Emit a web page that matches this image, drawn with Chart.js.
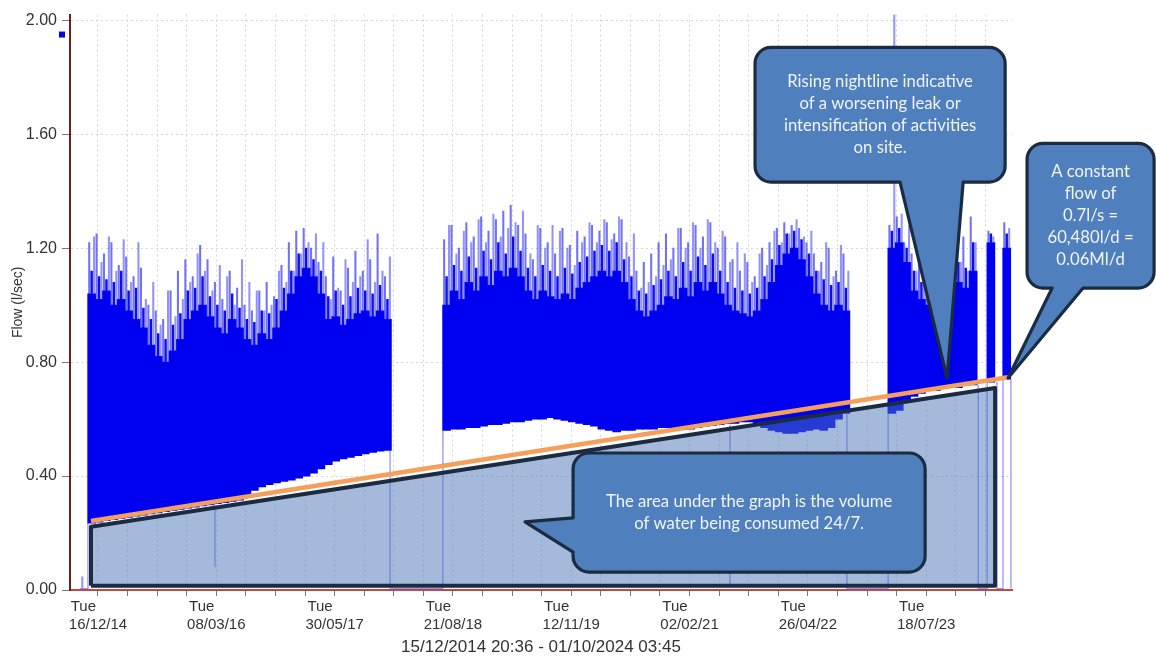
<!DOCTYPE html>
<html>
<head>
<meta charset="utf-8">
<script src="https://cdn.jsdelivr.net/npm/chart.js@4.4.1/dist/chart.umd.min.js"></script>
<style>
html,body{margin:0;padding:0;background:#fff;}
#wrap{width:1156px;height:658px;position:relative;}
</style>
</head>
<body>
<div id="wrap"><canvas id="c" width="1156" height="658"></canvas></div>
<script>
// ---------- axis data (x = days since Tue 16/12/2014) ----------
const X_MIN = -106;
const X_MAX = 3461;
const TICK_STEP_DAYS = 112;
const LABEL_STEP_DAYS = 448;
const Y_MIN = 0;
const Y_MAX = 2.02;
const Y_STEP = 0.4;
const xAxisTitle = '15/12/2014 20:36 - 01/10/2024 03:45';
const yAxisTitle = 'Flow (l/sec)';
const BUCKET_DAYS = 28;

// ---------- flow data, read per 28-day bucket ----------
// segment 1
const seg1Start = -38;
const seg1Low  = [0.235,0.238,0.243,0.247,0.251,0.255,0.259,0.263,0.267,0.271,0.275,0.279,0.283,0.287,0.291,0.295,0.299,0.303,0.307,0.311,0.315,0.33,0.35,0.362,0.37,0.376,0.381,0.386,0.393,0.40,0.41,0.425,0.44,0.452,0.46,0.465,0.472,0.478,0.483,0.487,0.49];
const seg1Top  = [1.04,1.02,1.05,1.00,1.02,0.98,0.95,0.92,0.86,0.82,0.80,0.84,0.88,0.95,0.98,1.00,0.96,0.92,0.90,0.95,0.92,0.88,0.86,0.90,0.88,0.92,0.98,1.04,1.10,1.13,1.10,1.04,0.95,0.96,0.93,0.95,0.97,0.98,0.96,0.98,0.95];
const seg1PeakA = [1.22,1.25,1.18,1.22,1.14,1.17,1.10,1.13,1.00,0.98,0.95,1.05,1.12,1.16,1.10,1.21,1.16,1.08,1.02,1.12,1.06,1.00,0.98,1.05,1.08,1.03,1.14,1.22,1.26,1.27,1.20,1.15,1.10,1.17,1.05,1.13,1.19,1.12,1.16,1.25,1.10];
const seg1PeakB = [1.24,1.15,1.24,1.12,1.23,1.08,1.22,1.02,1.08,0.93,1.05,0.96,1.02,1.08,1.18,1.12,1.05,1.14,1.10,1.00,1.16,1.08,1.05,0.98,1.00,1.12,1.08,1.12,1.18,1.22,1.25,1.22,1.02,1.06,1.16,1.08,1.10,1.23,1.08,1.12,1.17];
const seg1PeakC = [1.12,1.10,1.09,1.08,1.12,1.05,1.06,0.99,0.95,0.90,0.88,0.93,0.97,1.05,1.06,1.10,1.03,1.00,0.98,1.04,0.99,0.95,0.94,0.98,0.97,1.02,1.06,1.12,1.18,1.20,1.16,1.12,1.03,1.05,1.00,1.03,1.06,1.05,1.04,1.07,1.02];
// segment 2
const seg2Start = 1306;
const seg2Low  = [0.56,0.565,0.565,0.57,0.57,0.575,0.58,0.58,0.585,0.59,0.59,0.595,0.60,0.60,0.605,0.60,0.595,0.59,0.585,0.58,0.575,0.565,0.56,0.555,0.56,0.56,0.565,0.565,0.565,0.57,0.57,0.565,0.565,0.565,0.57,0.575,0.578,0.58,0.585,0.585,0.59,0.59,0.585,0.57,0.56,0.555,0.55,0.55,0.555,0.56,0.565,0.56,0.57,0.60,0.62];
const seg2Top  = [1.00,1.05,1.02,1.08,1.05,1.10,1.07,1.12,1.10,1.13,1.10,1.05,1.02,1.05,1.03,1.02,1.04,1.02,1.06,1.08,1.10,1.12,1.10,1.12,1.08,1.02,0.98,0.96,0.98,1.00,1.03,1.02,1.06,1.03,1.08,1.05,1.08,1.04,1.00,0.98,0.97,0.96,0.98,1.02,1.08,1.14,1.18,1.20,1.16,1.10,1.04,1.00,0.98,1.00,0.98];
const seg2PeakA = [1.23,1.28,1.20,1.29,1.24,1.31,1.26,1.30,1.33,1.35,1.28,1.25,1.16,1.27,1.22,1.18,1.27,1.21,1.26,1.24,1.28,1.26,1.29,1.25,1.30,1.17,1.12,1.15,1.18,1.22,1.25,1.20,1.27,1.22,1.28,1.24,1.29,1.20,1.24,1.16,1.12,1.15,1.10,1.20,1.22,1.27,1.29,1.28,1.27,1.22,1.18,1.15,1.20,1.12,1.18];
const seg2PeakB = [1.28,1.18,1.26,1.22,1.30,1.22,1.32,1.24,1.27,1.29,1.33,1.18,1.28,1.20,1.28,1.26,1.20,1.14,1.22,1.29,1.22,1.30,1.23,1.31,1.22,1.25,1.06,1.08,1.10,1.14,1.16,1.27,1.20,1.29,1.20,1.30,1.22,1.26,1.15,1.22,1.18,1.08,1.18,1.14,1.26,1.22,1.25,1.30,1.24,1.26,1.12,1.22,1.10,1.21,1.12];
const seg2PeakC = [1.10,1.14,1.12,1.17,1.13,1.19,1.16,1.22,1.18,1.24,1.19,1.13,1.10,1.14,1.12,1.10,1.13,1.11,1.15,1.17,1.19,1.21,1.19,1.22,1.16,1.10,1.05,1.04,1.07,1.09,1.12,1.10,1.15,1.12,1.17,1.14,1.18,1.12,1.08,1.06,1.05,1.04,1.06,1.10,1.16,1.21,1.25,1.26,1.23,1.18,1.12,1.09,1.07,1.08,1.06];
// segment 3 (with short outages)
const seg3Start = 2992;
const seg3Low  = [0.62,0.63,0.66,0.68,0.69,0.70,0.70,0.71,0.71,0.71,0.72,0.72];
const seg3Top  = [1.20,1.22,1.15,1.05,1.02,1.00,0.98,1.00,1.04,1.08,1.06,1.12];
const seg3PeakA = [1.28,1.31,1.22,1.18,1.15,1.12,1.10,1.08,1.18,1.22,1.24,1.31];
const seg3PeakB = [2.02,1.32,1.28,1.12,1.10,1.18,1.05,1.14,1.12,1.15,1.12,1.22];
const seg3PeakC = [1.26,1.27,1.20,1.12,1.08,1.07,1.05,1.07,1.11,1.15,1.13,1.22];
const seg4Start = 3367;
const seg4Low = [0.73], seg4Top = [1.22], seg4PeakA = [1.26], seg4PeakB = [1.24], seg4PeakC = [1.25];
const seg5Start = 3427;
const seg5Low = [0.74], seg5Top = [1.20], seg5PeakA = [1.29], seg5PeakB = [1.27], seg5PeakC = [1.25];

// outage / drop-out traces (flow falls to zero)
const dropLines = [
  [[-68,0.005],[-61,0.005],[-61,0.045],[-58,0.045],[-58,0.005],[-38,0.005],[-38,0.235]],
  [[443,0.30],[443,0.08]],
  [[1106,0.49],[1106,0.005],[1306,0.005],[1306,0.56]],
  [[2393,0.58],[2393,0.02]],
  [[2836,0.62],[2836,0.005],[2992,0.005],[2992,0.62]],
  [[3333,0.72],[3333,0.005],[3367,0.005],[3367,0.73]],
  [[3404,0.73],[3404,0.005],[3427,0.005],[3427,0.74]],
  [[3457,0.74],[3457,0.005]]
];

// annotation: base-load area and rising nightline
const areaDays  = [-26.5, -26.5, 3397, 3397, -26.5];
const areaFlows = [0.015, 0.222, 0.709, 0.015, 0.015];
const trendDays  = [-26.5, 3446];
const trendFlows = [0.242, 0.747];

// callouts (box: [x0, x1, yTop, yBottom] in data units)
const callouts = [
  {box:[2488,3435,1.905,1.432], side:'bottom', pointer:[[3276,1.432],[3215,0.744],[3037,1.432]],
   text:['Rising nightline indicative','of a worsening leak or','intensification of activities','on site.']},
  {box:[3518,3999,1.568,1.060], side:'bottom', pointer:[[3730,1.060],[3446,0.744],[3613,1.060]],
   text:['A constant','flow of','0.7l/s =','60,480l/d =','0.06Ml/d']},
  {box:[1799,3132,0.481,0.063], side:'left', pointer:[[1799,0.133],[1617,0.239],[1799,0.253]],
   text:['The area under the graph is the volume','of water being consumed 24/7.']}
];

// ---------- build datasets ----------
const segments = [
  {start:seg1Start, low:seg1Low, top:seg1Top, pa:seg1PeakA, pb:seg1PeakB, pc:seg1PeakC},
  {start:seg2Start, low:seg2Low, top:seg2Top, pa:seg2PeakA, pb:seg2PeakB, pc:seg2PeakC},
  {start:seg3Start, low:seg3Low, top:seg3Top, pa:seg3PeakA, pb:seg3PeakB, pc:seg3PeakC},
  {start:seg4Start, low:seg4Low, top:seg4Top, pa:seg4PeakA, pb:seg4PeakB, pc:seg4PeakC},
  {start:seg5Start, low:seg5Low, top:seg5Top, pa:seg5PeakA, pb:seg5PeakB, pc:seg5PeakC}
];
const bandData = [], spikeA = [], spikeB = [], spikeC = [];
segments.forEach(s => {
  s.low.forEach((lo, i) => {
    bandData.push({x: s.start + (i + 0.5) * BUCKET_DAYS, y: [lo, s.top[i]]});
    spikeA.push({x: s.start + (i + 0.17) * BUCKET_DAYS, y: [s.top[i], s.pa[i]]});
    spikeC.push({x: s.start + (i + 0.5) * BUCKET_DAYS, y: [s.top[i], s.pc[i]]});
    spikeB.push({x: s.start + (i + 0.83) * BUCKET_DAYS, y: [s.top[i], s.pb[i]]});
  });
});
const dropData = [];
dropLines.forEach((pl, k) => {
  if (k > 0) dropData.push({x: pl[0][0], y: null});
  pl.forEach(p => dropData.push({x: p[0], y: p[1]}));
});
const areaData = areaDays.map((d, i) => ({x: d, y: areaFlows[i]}));
const trendData = trendDays.map((d, i) => ({x: d, y: trendFlows[i]}));

// ---------- helpers ----------
const BASE = Date.UTC(2014, 11, 16);
const pad = n => String(n).padStart(2, '0');
function fmtDay(d) {
  const dt = new Date(BASE + d * 86400000);
  return pad(dt.getUTCDate()) + '/' + pad(dt.getUTCMonth() + 1) + '/' + String(dt.getUTCFullYear()).slice(2);
}

function drawCallout(ctx, xs, ys, c) {
  const L = xs.getPixelForValue(c.box[0]), R = xs.getPixelForValue(c.box[1]);
  const T = ys.getPixelForValue(c.box[2]), B = ys.getPixelForValue(c.box[3]);
  const p = c.pointer.map(q => [xs.getPixelForValue(q[0]), ys.getPixelForValue(q[1])]);
  const r = 16;
  ctx.save();
  ctx.beginPath();
  ctx.moveTo(L + r, T);
  ctx.lineTo(R - r, T);
  ctx.arcTo(R, T, R, T + r, r);
  ctx.lineTo(R, B - r);
  ctx.arcTo(R, B, R - r, B, r);
  if (c.side === 'bottom') {
    ctx.lineTo(p[0][0], B); ctx.lineTo(p[1][0], p[1][1]); ctx.lineTo(p[2][0], B);
  }
  ctx.lineTo(L + r, B);
  ctx.arcTo(L, B, L, B - r, r);
  if (c.side === 'left') {
    ctx.lineTo(L, p[0][1]); ctx.lineTo(p[1][0], p[1][1]); ctx.lineTo(L, p[2][1]);
  }
  ctx.lineTo(L, T + r);
  ctx.arcTo(L, T, L + r, T, r);
  ctx.closePath();
  ctx.fillStyle = '#4f7fbd';
  ctx.fill();
  ctx.lineWidth = 3.2;
  ctx.lineJoin = 'round';
  ctx.strokeStyle = '#1b2c42';
  ctx.stroke();
  ctx.fillStyle = '#f1f4f9';
  ctx.font = '16.7px Lato';
  ctx.textAlign = 'center';
  ctx.textBaseline = 'middle';
  const lh = 21.8;
  const cx = (L + R) / 2, cy = (T + B) / 2;
  const y0 = cy - (c.text.length - 1) * lh / 2;
  c.text.forEach((t, i) => ctx.fillText(t, cx, y0 + i * lh));
  ctx.restore();
}

const annotationPlugin = {
  id: 'annotationPlugin',
  afterDraw(chart) {
    const {ctx, scales: {x, y}, chartArea} = chart;
    ctx.save();
    ctx.fillStyle = '#0000f0';
    ctx.fillRect(chartArea.left - 11, y.getPixelForValue(1.95) - 3, 6, 6);
    ctx.restore();
    callouts.forEach(c => drawCallout(ctx, x, y, c));
  }
};

// ---------- chart ----------
new Chart(document.getElementById('c'), {
  type: 'bar',
  data: {
    datasets: [
      {type:'bar', data: bandData, backgroundColor:'#0000f0', borderWidth:0, barThickness:8, grouped:false, order:7},
      {type:'bar', data: spikeC, backgroundColor:'rgba(0,0,240,0.95)', borderWidth:0, barThickness:1.8, grouped:false, order:6},
      {type:'bar', data: spikeA, backgroundColor:'rgba(20,20,240,0.6)', borderWidth:0, barThickness:1.4, grouped:false, order:5},
      {type:'bar', data: spikeB, backgroundColor:'rgba(40,40,245,0.5)', borderWidth:0, barThickness:1.4, grouped:false, order:4},
      {type:'line', data: dropData, borderColor:'rgba(60,60,250,0.55)', borderWidth:1.3, pointRadius:0, spanGaps:false, fill:false, order:3},
      {type:'line', data: areaData, borderColor:'#1b2c42', backgroundColor:'rgba(75,118,182,0.5)', borderWidth:4, borderJoinStyle:'round', pointRadius:0, fill:'shape', tension:0, order:2},
      {type:'line', data: trendData, borderColor:'#f5a05a', borderWidth:4.5, pointRadius:0, fill:false, order:1}
    ]
  },
  options: {
    responsive: false,
    animation: false,
    events: [],
    layout: {padding: {left: 8, right: 144, top: 14, bottom: 0}},
    plugins: {legend: {display: false}, tooltip: {enabled: false}},
    scales: {
      x: {
        type: 'linear', min: X_MIN, max: X_MAX, offset: false, position: 'bottom',
        grid: {offset: false, color: '#d6d6d6', lineWidth: 1, drawTicks: true, tickLength: 6, tickColor: '#777', tickWidth: 1},
        border: {display: true, color: '#c24a3c', width: 2, dash: [2, 3]},
        ticks: {
          stepSize: TICK_STEP_DAYS, includeBounds: false, autoSkip: false, maxRotation: 0, minRotation: 0,
          padding: 2, color: '#333', font: {family: 'Liberation Sans', size: 15, lineHeight: 1.2},
          callback: v => (v % LABEL_STEP_DAYS === 0) ? ['Tue       ', fmtDay(v)] : ''
        },
        title: {display: true, text: xAxisTitle, color: '#333', font: {family: 'Liberation Sans', size: 17}, padding: {top: 0, bottom: 0}},
        afterFit: s => { s.height = 68; }
      },
      y: {
        min: Y_MIN, max: Y_MAX,
        grid: {color: '#d6d6d6', lineWidth: 1, tickLength: 8, tickColor: '#777'},
        border: {display: true, color: '#6e1f1f', width: 2, dash: [2, 3]},
        ticks: {
          stepSize: Y_STEP, includeBounds: false, padding: 5, color: '#333',
          font: {family: 'Liberation Sans', size: 16},
          callback: v => Number(v).toFixed(2)
        },
        title: {display: true, text: yAxisTitle, color: '#333', font: {family: 'Liberation Sans', size: 14}, padding: {top: 2, bottom: 0}},
        afterFit: s => { s.width = 62; }
      }
    }
  },
  plugins: [annotationPlugin]
});
</script>
</body>
</html>
